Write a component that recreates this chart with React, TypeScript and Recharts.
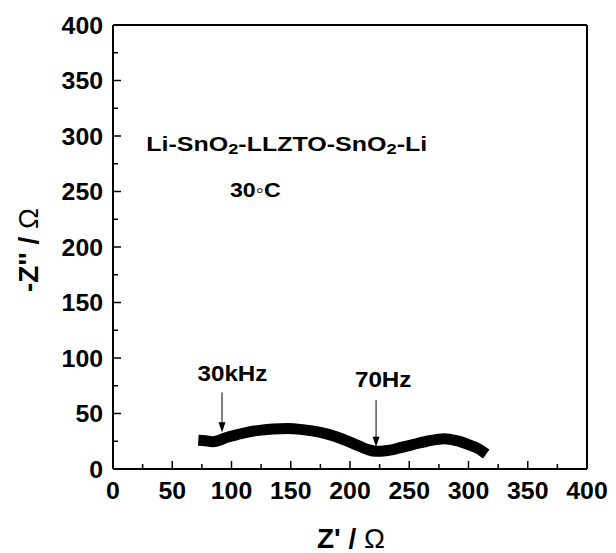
import React from 'react';
import { ComposedChart, Line, XAxis, YAxis, ReferenceLine, ReferenceDot, Label } from 'recharts';

// Nyquist plot, Li-SnO2-LLZTO-SnO2-Li at 30 C
const zReal = [72, 78, 84, 90, 96, 105, 115, 125, 135, 147, 160, 175, 187, 197, 207, 215, 222, 230, 240, 253, 265, 280, 290, 300, 308, 315];
const zImag = [26, 25.5, 24.5, 26, 28.5, 31, 33.5, 35, 36, 36.5, 35.5, 33, 29.5, 25.5, 21, 17.5, 16, 16.5, 18.5, 22, 25, 27.3, 25.5, 22, 18.5, 13.5];

const axisTicks = [0, 25, 50, 75, 100, 125, 150, 175, 200, 225, 250, 275, 300, 325, 350, 375, 400];

// frequency markers
const freqLabels = ['30kHz', '70Hz'];
const arrowX = [92, 222];
const arrowFrom = [69, 62];
const arrowTo = [33, 20];
const labelX = [100.8, 228];
const labelY = [79, 74];

const data = zReal.map((x, i) => ({ x, y: zImag[i] }));

const FONT = '"Liberation Sans", Arial, sans-serif';
const PLOT_LEFT = 113;
const PLOT_BOTTOM = 469;

const XTick = (props: any) => {
  const { x, payload } = props;
  const major = payload.value % 50 === 0;
  return (
    <g>
      <line x1={x} x2={x} y1={PLOT_BOTTOM} y2={PLOT_BOTTOM - (major ? 8 : 5)} stroke="#000" strokeWidth={1.5} />
      {major && (
        <text
          transform={`translate(${x},499) scale(1.08,1)`}
          textAnchor="middle"
          fontFamily={FONT}
          fontWeight="bold"
          fontSize={23}
          fill="#000"
        >
          {payload.value}
        </text>
      )}
    </g>
  );
};

const YTick = (props: any) => {
  const { y, payload } = props;
  const major = payload.value % 50 === 0;
  return (
    <g>
      <line x1={PLOT_LEFT} x2={PLOT_LEFT + (major ? 8 : 5)} y1={y} y2={y} stroke="#000" strokeWidth={1.5} />
      {major && (
        <text
          transform={`translate(103,${y + 8.5}) scale(1.08,1)`}
          textAnchor="end"
          fontFamily={FONT}
          fontWeight="bold"
          fontSize={23}
          fill="#000"
        >
          {payload.value}
        </text>
      )}
    </g>
  );
};

const Arrow = (props: any) => {
  const { x1, y1, x2, y2 } = props;
  return (
    <g>
      <line x1={x1} y1={y1} x2={x2} y2={y2 - 8} stroke="#000" strokeWidth={1} />
      <path d={`M${x2 - 3.5},${y2 - 10} L${x2 + 3.5},${y2 - 10} L${x2},${y2} Z`} fill="#000" />
    </g>
  );
};

const FreqText = (text: string) => (props: any) => (
  <text
    transform={`translate(${props.cx},${props.cy}) scale(1.1,1)`}
    textAnchor="middle"
    fontFamily={FONT}
    fontWeight="bold"
    fontSize={22}
    fill="#000"
  >
    {text}
  </text>
);

const CellText = (props: any) => (
  <text
    transform={`translate(${props.cx},${props.cy}) scale(1.22,1)`}
    fontFamily={FONT}
    fontWeight="bold"
    fontSize={20.5}
    fill="#000"
  >
    <tspan>Li-SnO</tspan>
    <tspan fontSize={15} dy={3}>2</tspan>
    <tspan dy={-3}>-LLZTO-SnO</tspan>
    <tspan fontSize={15} dy={3}>2</tspan>
    <tspan dy={-3}>-Li</tspan>
  </text>
);

const TempText = (props: any) => (
  <text
    transform={`translate(${props.cx},${props.cy}) scale(1.13,1)`}
    fontFamily={FONT}
    fontWeight="bold"
    fontSize={20.5}
    fill="#000"
  >
    30◦C
  </text>
);

const XTitle = () => (
  <text x={351} y={548} textAnchor="middle" fontFamily={FONT} fontWeight="bold" fontSize={28} fill="#000">
    Z' / <tspan fontWeight="normal">Ω</tspan>
  </text>
);

const YTitle = () => (
  <text
    x={0}
    y={0}
    transform="translate(38,250) rotate(-90)"
    textAnchor="middle"
    fontFamily={FONT}
    fontWeight="bold"
    fontSize={28}
    fill="#000"
  >
    -Z'' / <tspan fontWeight="normal">Ω</tspan>
  </text>
);

export default function App() {
  return (
    <div style={{ position: 'absolute', left: 0, top: 0, background: '#fff' }}>
      <ComposedChart width={616} height={553} data={data} margin={{ top: 25, right: 29, left: 0, bottom: 0 }}>
        <XAxis
          type="number"
          dataKey="x"
          domain={[0, 400]}
          ticks={axisTicks}
          interval={0}
          height={84}
          tickLine={false}
          tick={<XTick />}
          axisLine={{ stroke: '#000', strokeWidth: 2 }}
        >
          <Label content={<XTitle />} />
        </XAxis>
        <YAxis
          type="number"
          domain={[0, 400]}
          ticks={axisTicks}
          interval={0}
          width={113}
          tickLine={false}
          tick={<YTick />}
          axisLine={{ stroke: '#000', strokeWidth: 2 }}
        >
          <Label content={<YTitle />} />
        </YAxis>
        <ReferenceLine y={400} stroke="#000" strokeWidth={2} />
        <ReferenceLine x={400} stroke="#000" strokeWidth={2} />
        <Line
          type="monotone"
          dataKey="y"
          stroke="#000"
          strokeWidth={11}
          strokeLinecap="butt"
          strokeLinejoin="miter"
          dot={false}
          activeDot={false}
          isAnimationActive={false}
        />
        {arrowX.map((ax, i) => (
          <ReferenceLine
            key={'arrow' + i}
            segment={[{ x: ax, y: arrowFrom[i] }, { x: ax, y: arrowTo[i] }]}
            shape={<Arrow />}
          />
        ))}
        {freqLabels.map((t, i) => (
          <ReferenceDot key={'lbl' + i} x={labelX[i]} y={labelY[i]} r={0} shape={FreqText(t)} />
        ))}
        <ReferenceDot x={28} y={286.5} r={0} shape={<CellText />} />
        <ReferenceDot x={98.7} y={245} r={0} shape={<TempText />} />
      </ComposedChart>
    </div>
  );
}
